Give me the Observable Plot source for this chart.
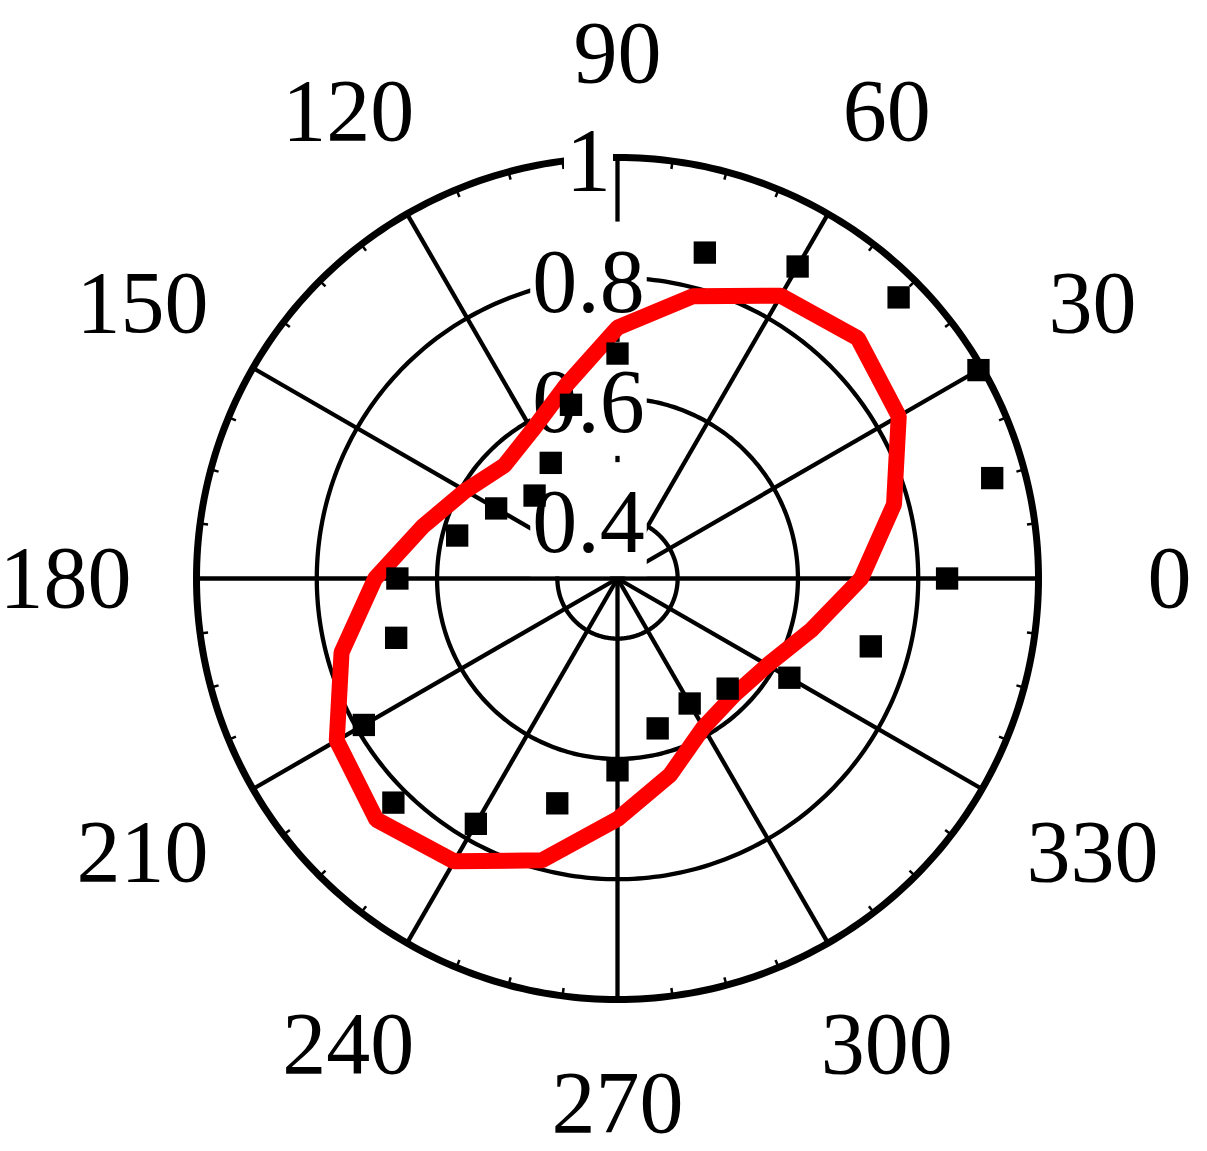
<!DOCTYPE html>
<html><head><meta charset="utf-8">
<script src="https://cdn.jsdelivr.net/npm/d3@7"></script>
<script src="https://cdn.jsdelivr.net/npm/@observablehq/plot@0.6"></script>
<style>body{margin:0;background:#fff}</style>
</head><body><div id="chart"></div>
<script>
// ---- data ----
const angles = [0,15,30,45,60,75,90,105,120,135,150,165,180,195,210,225,240,255,270,285,300,315,330,345];
const pointValues = [0.848,0.945,0.993,0.961,0.899,0.861,0.674,0.599,0.522,0.495,0.533,0.576,0.666,0.681,0.787,0.827,0.771,0.687,0.619,0.558,0.540,0.559,0.630,0.736];
const fitValues = [0.705,0.776,0.840,0.865,0.843,0.786,0.717,0.632,0.584,0.566,0.592,0.635,0.703,0.775,0.839,0.867,0.843,0.785,0.700,0.638,0.586,0.574,0.588,0.633];
const angleTicks = [0,30,60,90,120,150,180,210,240,270,300,330];
const angleTickLabels = ["0","30","60","90","120","150","180","210","240","270","300","330"];
const radialTicks = [0.4,0.6,0.8,1];
const radialTickLabels = ["0.4","0.6","0.8","1"];
const minorTickStep = 7.5;
const rMin = 0.3, rMax = 1;

// ---- geometry helpers ----
const W = 1207, H = 1151;
const R = rMax - rMin;
const cx = 617, rPx = 421;
const pxPerUnit = rPx / R;
const rad = d => d * Math.PI / 180;
const polar = (a, v) => ({x: (v - rMin) * Math.cos(rad(a)), y: (v - rMin) * Math.sin(rad(a))});

const points = angles.map((a, i) => ({angle: a, value: pointValues[i], ...polar(a, pointValues[i])}));
const fit = angles.map((a, i) => ({angle: a, value: fitValues[i], ...polar(a, fitValues[i])}));
const circleAngles = d3.range(0, 361, 1);
const rings = radialTicks.filter(v => v < rMax).flatMap(v => circleAngles.map(a => ({ring: v, ...polar(a, v)})));
const outer = circleAngles.map(a => polar(a, rMax));
const spokes = angleTicks.map(a => ({x1: 0, y1: 0, x2: R * Math.cos(rad(a)), y2: R * Math.sin(rad(a))}));
const minorAngles = d3.range(0, 360, minorTickStep).filter(a => a % 30 !== 0);
const tickLen = 8 / pxPerUnit;
const minor = minorAngles.map(a => ({
  x1: R * Math.cos(rad(a)), y1: R * Math.sin(rad(a)),
  x2: (R - tickLen) * Math.cos(rad(a)), y2: (R - tickLen) * Math.sin(rad(a))
}));
const angleLabels = angleTicks.map((a, i) => {
  const L = (525 + 27 * Math.abs(Math.cos(rad(a)))) / pxPerUnit;
  return {label: angleTickLabels[i], x: L * Math.cos(rad(a)), y: L * Math.sin(rad(a))};
});
const radialLabels = radialTicks.map((v, i) => ({label: radialTickLabels[i], x: 0, y: v - rMin}));

const chart = Plot.plot({
  width: W, height: H,
  marginLeft: cx - rPx, marginRight: W - (cx + rPx),
  marginTop: 157, marginBottom: H - (157 + 2 * rPx),
  x: {domain: [-R, R], axis: null},
  y: {domain: [-R, R], axis: null},
  style: {background: "white", overflow: "visible"},
  marks: [
    Plot.line(rings, {x: "x", y: "y", z: "ring", stroke: "black", strokeWidth: 4.3}),
    Plot.link(spokes, {x1: "x1", y1: "y1", x2: "x2", y2: "y2", stroke: "black", strokeWidth: 4.3}),
    Plot.line(outer, {x: "x", y: "y", stroke: "black", strokeWidth: 7}),
    Plot.link(minor, {x1: "x1", y1: "y1", x2: "x2", y2: "y2", stroke: "black", strokeWidth: 2.5}),
    Plot.text(radialLabels, {x: "x", y: "y", text: "label", dx: -29, dy: 5, fontSize: 90,
      fontFamily: "Liberation Serif", fill: "black", textAnchor: "middle"}),
    Plot.text(angleLabels, {x: "x", y: "y", text: "label", fontSize: 88,
      fontFamily: "Liberation Serif", fill: "black", textAnchor: "middle"}),
    Plot.line(fit, {x: "x", y: "y", curve: "linear-closed", stroke: "#ff0000", strokeWidth: 16, strokeLinejoin: "miter"}),
    Plot.dot(points, {x: "x", y: "y", symbol: "square", r: 12.6, fill: "black"})
  ]
});
document.getElementById("chart").appendChild(chart);

// white boxes behind the radial tick labels (mask the grid like the original)
const textGroups = chart.querySelectorAll('g[aria-label="text"]');
if (textGroups.length) {
  const g = textGroups[0];
  g.querySelectorAll("text").forEach(t => {
    const b = t.getBBox();
    const r = document.createElementNS("http://www.w3.org/2000/svg", "rect");
    r.setAttribute("x", b.x - 2);
    r.setAttribute("y", b.y - 10);
    r.setAttribute("width", b.width + 4);
    r.setAttribute("height", b.height + 15);
    r.setAttribute("fill", "white");
    r.setAttribute("stroke", "none");
    const tr = t.getAttribute("transform");
    if (tr) r.setAttribute("transform", tr);
    g.insertBefore(r, t);
  });
}
</script>
</body></html>
